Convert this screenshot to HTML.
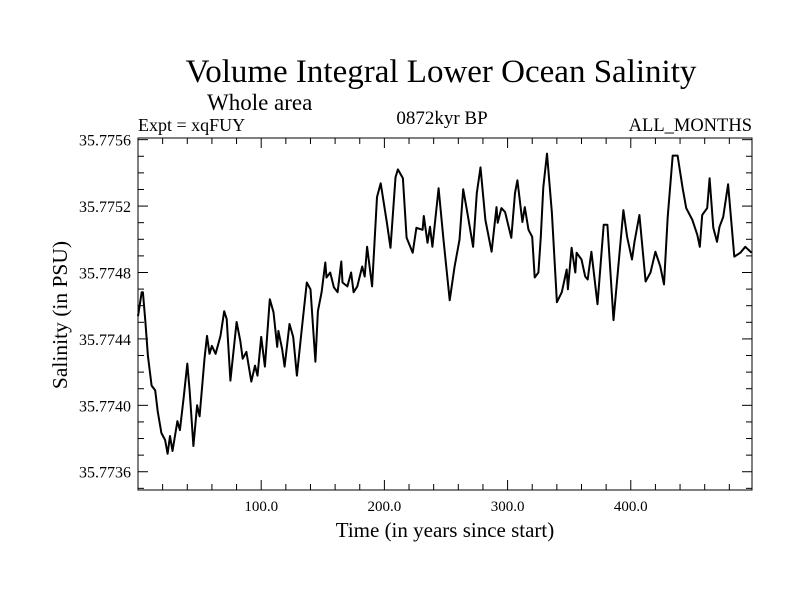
<!DOCTYPE html>
<html><head><meta charset="utf-8">
<style>
html,body{margin:0;padding:0;background:#fff;}
svg{display:block;font-family:"Liberation Serif",serif;}
</style></head>
<body>
<svg id="chart" width="800" height="600" viewBox="0 0 800 600">
<rect width="800" height="600" fill="#fff"/>
<text x="441" y="82" font-size="33" text-anchor="middle">Volume Integral Lower Ocean Salinity</text>
<text x="207" y="110" font-size="23">Whole area</text>
<text x="138" y="131" font-size="18">Expt = xqFUY</text>
<text x="442" y="124" font-size="19" text-anchor="middle">0872kyr BP</text>
<text x="752" y="131" font-size="18.5" text-anchor="end">ALL_MONTHS</text>
<text transform="translate(67,315) rotate(-90)" font-size="21.5" text-anchor="middle">Salinity (in PSU)</text>
<text x="445" y="537" font-size="21" text-anchor="middle">Time (in years since start)</text>
<g id="axes"></g>
<path id="series" fill="none" stroke="#000" stroke-width="2" stroke-linejoin="round"/>
<rect x="138" y="138" width="614" height="352" fill="none" stroke="#000" stroke-width="1"/>
</svg>
<script>
const years = [0,3,4,6,8,11,14,16,19,22,24,26,28,32,34,37,40,42,45,48,50,54,56,58,60,63,67,70,72,75,80,83,85,88,92,95,97,100,103,107,110,113,114,117,119,123,126,129,133,137,140,144,146,149,152,153,156,159,162,165,166,170,173,175,178,182,184,186,190,194,197,202,205,209,211,215,218,223,226,231,232,235,237,239,244,248,253,257,261,264,267,272,275,278,282,287,291,292,295,298,303,306,308,312,314,317,320,322,325,327,329,332,336,340,344,348,349,352,355,356,360,363,365,368,373,378,381,386,394,397,401,403,407,412,416,420,424,427,430,434,438,442,445,450,454,456,458,462,464,467,470,472,475,479,484,489,493,498];
const salinity = [35.774537,35.774681,35.774681,35.774502,35.774299,35.774119,35.774090,35.773964,35.773833,35.773791,35.773708,35.773815,35.773725,35.773905,35.773851,35.774042,35.774251,35.774084,35.773755,35.774000,35.773934,35.774281,35.774418,35.774310,35.774358,35.774310,35.774418,35.774567,35.774519,35.774149,35.774502,35.774388,35.774281,35.774322,35.774143,35.774239,35.774179,35.774412,35.774233,35.774639,35.774561,35.774352,35.774448,35.774340,35.774233,35.774490,35.774412,35.774179,35.774460,35.774740,35.774699,35.774263,35.774567,35.774681,35.774860,35.774770,35.774800,35.774710,35.774681,35.774866,35.774740,35.774716,35.774800,35.774681,35.774716,35.774836,35.774776,35.774955,35.774716,35.775254,35.775337,35.775099,35.774949,35.775373,35.775421,35.775367,35.775009,35.774919,35.775069,35.775057,35.775140,35.774979,35.775075,35.774955,35.775307,35.774997,35.774633,35.774836,35.774997,35.775301,35.775176,35.774955,35.775278,35.775433,35.775116,35.774925,35.775194,35.775099,35.775188,35.775164,35.775009,35.775278,35.775355,35.775104,35.775194,35.775057,35.775015,35.774770,35.774800,35.775015,35.775313,35.775516,35.775158,35.774621,35.774681,35.774818,35.774699,35.774949,35.774800,35.774919,35.774878,35.774776,35.774758,35.774925,35.774609,35.775087,35.775087,35.774513,35.775176,35.775015,35.774878,35.774985,35.775146,35.774746,35.774800,35.774925,35.774836,35.774728,35.775134,35.775504,35.775504,35.775313,35.775188,35.775116,35.775027,35.774955,35.775146,35.775188,35.775367,35.775069,35.774985,35.775075,35.775134,35.775331,35.774896,35.774919,35.774955,35.774919];
const xTickLabels = ["100.0","200.0","300.0","400.0"];
const xTickValues = [100,200,300,400];
const yTickLabels = ["35.7736","35.7740","35.7744","35.7748","35.7752","35.7756"];
const yTickValues = [35.7736,35.7740,35.7744,35.7748,35.7752,35.7756];

const X0=138, X1=752, Y0=490, Y1=138;
const xMin=0, xMax=498.4, yMin=35.77349, yMax=35.77561;
function xScale(v){return X0+(v-xMin)/(xMax-xMin)*(X1-X0);}
function yScale(v){return Y0-(v-yMin)/(yMax-yMin)*(Y0-Y1);}
const NS="http://www.w3.org/2000/svg";
const axes=document.getElementById('axes');
function line(x1,y1,x2,y2,name){
  const l=document.createElementNS(NS,'line');
  l.setAttribute('x1',x1);l.setAttribute('y1',y1);l.setAttribute('x2',x2);l.setAttribute('y2',y2);
  l.setAttribute('stroke','#000');l.setAttribute('stroke-width','1');
  
  
  axes.appendChild(l);
}
function text(x,y,s,anchor,size,name){
  const t=document.createElementNS(NS,'text');
  t.setAttribute('x',x);t.setAttribute('y',y);t.setAttribute('font-size',size);
  t.setAttribute('text-anchor',anchor);t.textContent=s;
  
  
  axes.appendChild(t);
}
for(let v=20; v<xMax; v+=20){
  const x=xScale(v); const major=(v%100===0); const len=major?10:6;
  line(x,Y0,x,Y0-len,'x-tick');
  line(x,Y1,x,Y1+len,'x-tick-top');
}
xTickValues.forEach((v,i)=>text(xScale(v),Y0+21,xTickLabels[i],'middle','15','x-tick-label'));
for(let k=0;k<=21;k++){
  const v=35.7735+k*0.0001; if(v<yMin||v>yMax) continue;
  const y=yScale(v); const major=(k%4===1); const len=major?10:6;
  line(X0,y,X0+len,y,'y-tick');
  line(X1,y,X1-len,y,'y-tick-right');
}
yTickValues.forEach((v,i)=>text(X0-7,yScale(v)+6,yTickLabels[i],'end','16','y-tick-label'));
let d='';
years.forEach((yr,i)=>{d+=(i?'L':'M')+xScale(yr).toFixed(1)+' '+yScale(salinity[i]).toFixed(1);});
document.getElementById('series').setAttribute('d',d);
</script>
</body></html>
